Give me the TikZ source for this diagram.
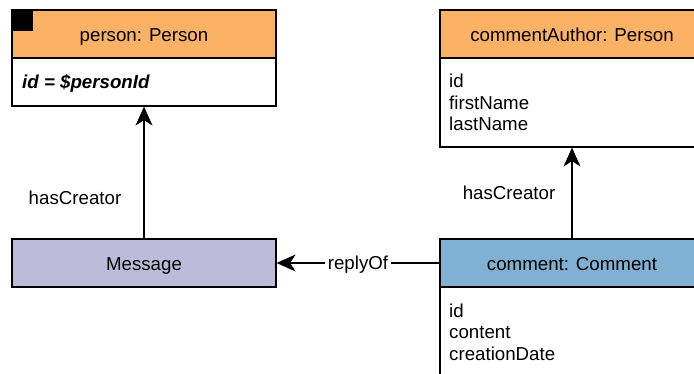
\documentclass[tikz,border=0pt]{standalone}
\usepackage{fontspec}
\setmainfont{Liberation Sans}
\usetikzlibrary{arrows.meta}
\definecolor{orangeH}{HTML}{FBB264}
\definecolor{lavH}{HTML}{BEBADA}
\definecolor{blueH}{HTML}{80B1D3}
\tikzset{
  box/.style={draw=black, line width=1.2pt, minimum width=264pt, inner sep=0pt},
  hdr/.style={box, minimum height=48pt, text height=16pt, text depth=0.6pt},
  attr/.style={anchor=base west, inner sep=0pt},
  lbl/.style={inner sep=1pt, text height=13.5pt, text depth=0pt},
  conn/.style={line width=1.2pt, -{Stealth[length=19pt,width=17pt,inset=5.5pt]}}
}
\begin{document}
\begin{tikzpicture}[x=1pt,y=-1pt,font=\fontsize{18.7}{22}\selectfont]
\useasboundingbox (0,0) rectangle (694,374);
\clip (0,0) rectangle (694,374);
% person
\node[box, minimum height=48pt, fill=white] (personB) at (144,82) {};
\node[hdr, fill=orangeH] (person) at (144,34) {person: Person};
\fill[black] (person.north west) rectangle ++(22,22);
\node[attr] (pid) at (22,89) {\bfseries\itshape id = \$personId};
% commentAuthor
\node[box, minimum height=89pt, fill=white] (authorB) at (572,102.5) {};
\node[hdr, fill=orangeH] (author) at (572,34) {commentAuthor: Person};
\node[attr] (a1) at (449,88) {id};
\node[attr] (a2) at (449,109.5) {firstName};
\node[attr] (a3) at (449,131) {lastName};
% Message
\node[hdr, fill=lavH] (msg) at (144,263) {Message};
% comment
\node[box, minimum height=100pt, fill=white] (commentB) at (572,337) {};
\node[hdr, fill=blueH] (comment) at (572,263) {comment: Comment};
\node[attr] (c1) at (449,317) {id};
\node[attr] (c2) at (449,338.5) {content};
\node[attr] (c3) at (449,360) {creationDate};
% connectors
\draw[conn] (msg.north) -- (personB.south);
\node[lbl] (hc1) at (75,198) {hasCreator};
\draw[conn] (comment.north) -- (authorB.south);
\node[lbl] (hc2) at (509,193) {hasCreator};
\draw[conn] (comment.west) -- node[lbl, fill=white, inner sep=3pt] (rof) {replyOf} (msg.east);
\end{tikzpicture}
\end{document}
